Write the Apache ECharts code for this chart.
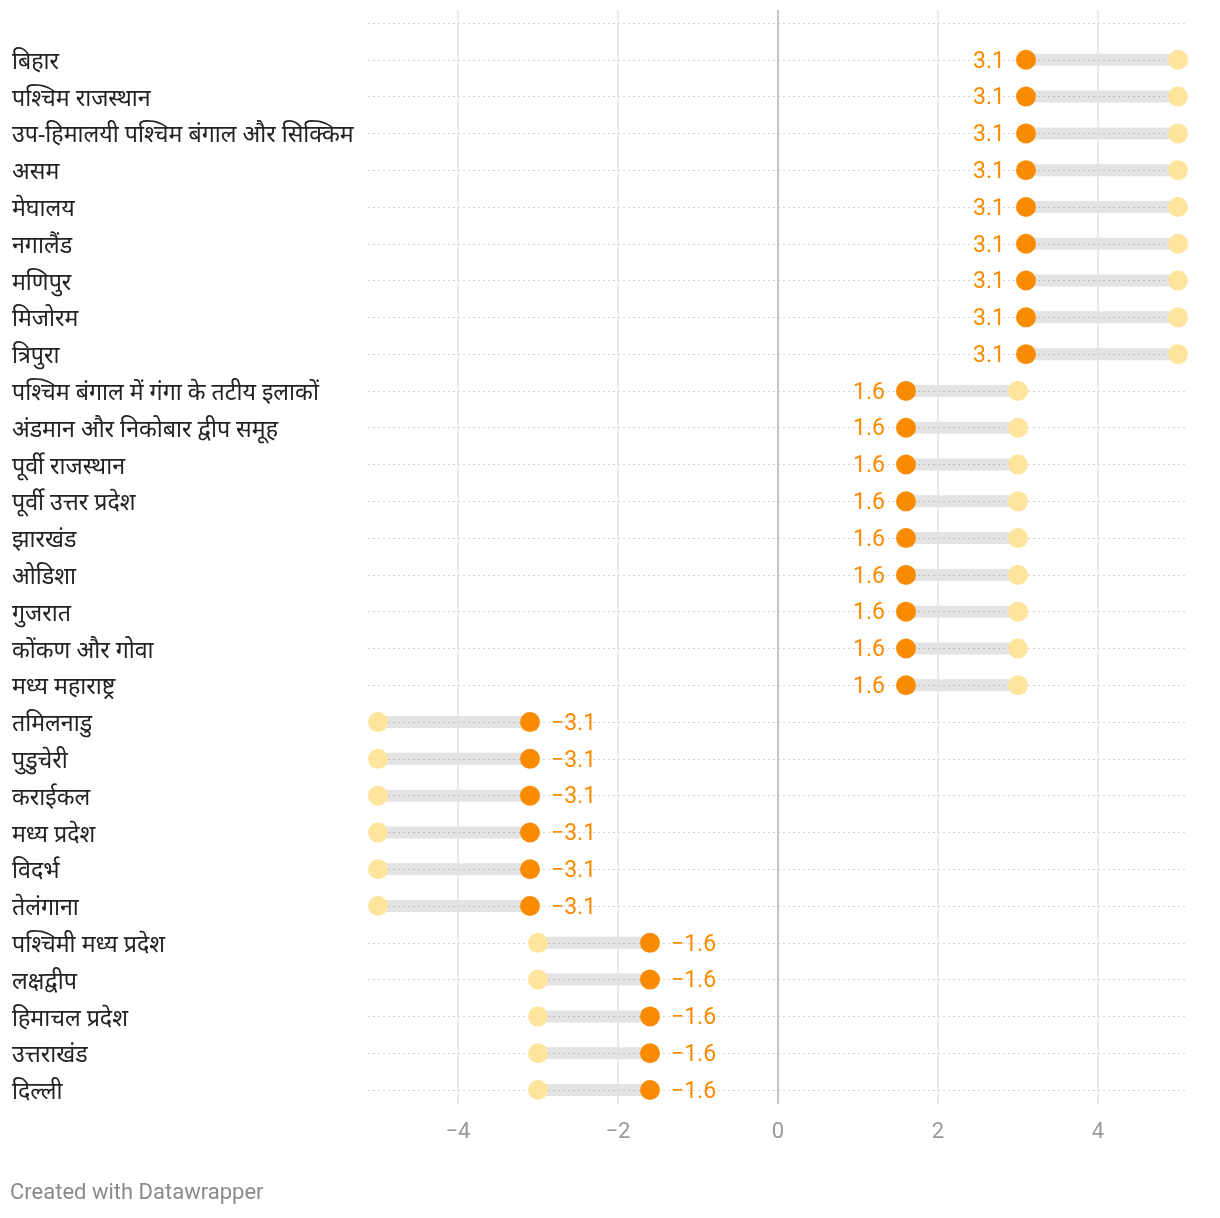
<!DOCTYPE html>
<html>
<head>
<meta charset="utf-8">
<script src="https://cdn.jsdelivr.net/npm/echarts@6/dist/echarts.min.js"></script>
<style>
html,body{margin:0;padding:0;background:#fff;}
#chart{width:1220px;height:1218px;}
</style>
</head>
<body>
<div id="chart"></div>
<script>
const categories = [
  'बिहार','पश्चिम राजस्थान','उप-हिमालयी पश्चिम बंगाल और सिक्किम','असम','मेघालय','नगालैंड','मणिपुर','मिजोरम','त्रिपुरा',
  'पश्चिम बंगाल में गंगा के तटीय इलाकों','अंडमान और निकोबार द्वीप समूह','पूर्वी राजस्थान','पूर्वी उत्तर प्रदेश','झारखंड','ओडिशा','गुजरात','कोंकण और गोवा','मध्य महाराष्ट्र',
  'तमिलनाडु','पुडुचेरी','कराईकल','मध्य प्रदेश','विदर्भ','तेलंगाना',
  'पश्चिमी मध्य प्रदेश','लक्षद्वीप','हिमाचल प्रदेश','उत्तराखंड','दिल्ली'
];
const values = [3.1,3.1,3.1,3.1,3.1,3.1,3.1,3.1,3.1,
  1.6,1.6,1.6,1.6,1.6,1.6,1.6,1.6,1.6,
  -3.1,-3.1,-3.1,-3.1,-3.1,-3.1,
  -1.6,-1.6,-1.6,-1.6,-1.6];
const comparison = [5,5,5,5,5,5,5,5,5,
  3,3,3,3,3,3,3,3,3,
  -5,-5,-5,-5,-5,-5,
  -3,-3,-3,-3,-3];
const xTicks = [-4,-2,0,2,4];

const ORANGE = '#f98b00';
const LIGHT = '#ffe49e';
const fmtNum = v => (v < 0 ? '\u2212' + Math.abs(v) : String(v));

const chart = echarts.init(document.getElementById('chart'));

const rangeData = values.map((v, i) => [v, comparison[i], i]);
const orangeData = values.map((v, i) => ({
  value: [v, i],
  label: { position: v >= 0 ? 'left' : 'right' }
}));
const lightData = comparison.map((v, i) => [v, i]);

chart.setOption({
  animation: false,
  backgroundColor: '#fff',
  grid: [
    { left: 368, right: 32, top: 23, bottom: 128 },
    { left: 368, right: 32, top: 10, bottom: 114 }
  ],
  xAxis: [
    { gridIndex: 0, type: 'value', min: -5.125, max: 5.125,
      axisLine: { show: false }, axisTick: { show: false }, axisLabel: { show: false }, splitLine: { show: false } },
    { gridIndex: 1, type: 'value', min: -5.125, max: 5.125,
      axisLine: { show: false }, axisTick: { show: false }, splitLine: { show: false },
      axisLabel: { show: true, customValues: xTicks,
        formatter: v => fmtNum(v), color: '#9a9a9a', fontSize: 22, fontFamily: 'Roboto', margin: 17 } }
  ],
  yAxis: [
    { gridIndex: 0, type: 'value', inverse: true, min: -1, max: 28, interval: 1,
      axisLine: { show: false }, axisTick: { show: false },
      splitLine: { show: true, lineStyle: { color: '#d4d4d4', type: [2, 3], width: 1 } },
      axisLabel: { show: true, align: 'left', margin: 356, color: '#222', fontSize: 23.2,
        fontFamily: 'Noto Sans, sans-serif',
        rich: { c: { fontSize: 23.2, color: '#222', fontFamily: 'Noto Sans, sans-serif', padding: [5, 0, 0, 0] } },
        formatter: v => (v >= 0 && Number.isInteger(v) ? '{c|' + categories[v] + '}' : '') } },
    { gridIndex: 1, type: 'value', min: 0, max: 1, show: false }
  ],
  series: [
    {
      type: 'scatter', xAxisIndex: 1, yAxisIndex: 1, data: [], silent: true,
      markLine: {
        silent: true, symbol: ['none', 'none'], label: { show: false },
        data: xTicks.map(t => ({ xAxis: t, lineStyle: { color: t === 0 ? '#c4c4c4' : '#e3e3e3', width: t === 0 ? 2 : 1.5, type: 'solid' } }))
      }
    },
    {
      type: 'custom', xAxisIndex: 0, yAxisIndex: 0, silent: true,
      data: rangeData,
      encode: { x: [0, 1], y: 2 },
      renderItem: (params, api) => {
        const p1 = api.coord([api.value(0), api.value(2)]);
        const p2 = api.coord([api.value(1), api.value(2)]);
        return { type: 'line', shape: { x1: p1[0], y1: p1[1], x2: p2[0], y2: p2[1] },
          style: { stroke: 'rgba(0,0,0,0.11)', lineWidth: 12 } };
      }
    },
    {
      type: 'scatter', xAxisIndex: 0, yAxisIndex: 0, symbolSize: 20, silent: true,
      itemStyle: { color: LIGHT, opacity: 1 },
      data: lightData
    },
    {
      type: 'scatter', xAxisIndex: 0, yAxisIndex: 0, symbolSize: 20, silent: true,
      itemStyle: { color: ORANGE, opacity: 1 },
      label: { show: true, distance: 11, color: ORANGE, fontSize: 23, fontFamily: 'Roboto',
        offset: [0, 2], formatter: p => fmtNum(p.value[0]) },
      data: orangeData
    }
  ],
  graphic: [
    { type: 'text', left: 10, top: 1182,
      style: { text: 'Created with Datawrapper', fill: '#8a8a8a', fontSize: 22, fontFamily: 'Roboto' } }
  ]
});
</script>
</body>
</html>
